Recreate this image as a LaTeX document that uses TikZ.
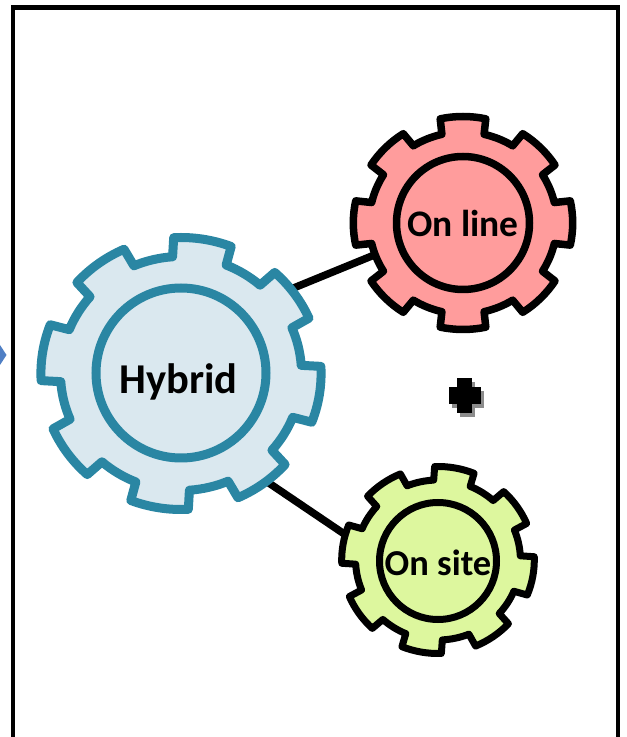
\documentclass[tikz,border=0pt]{standalone}
\usepackage{fontspec}
\setmainfont{Carlito}
\usetikzlibrary{backgrounds}

% #1 centre, #2 root radius, #3 tip radius, #4 first tooth angle, #5 style
\newcommand{\gearshape}[5]{
  \draw[shift={(#1)}, #5] (#4-13:#2)
    \foreach \k in {0,...,7} {
      -- ({#4+45*\k-12}:#3) arc [start angle={#4+45*\k-12}, end angle={#4+45*\k+12}, radius=#3]
      -- ({#4+45*\k+13}:#2) arc [start angle={#4+45*\k+13}, end angle={#4+45*\k+32}, radius=#2]
    } -- cycle;
}

\begin{document}
\begin{tikzpicture}[
  x=1pt, y=1pt,
  frame/.style={draw=black, line width=4.5pt},
  link/.style={draw=black, line width=7.5pt},
  hub/.style={circle, draw, inner sep=0pt, align=center},
  hybridgear/.style={draw=hybridline, fill=hybridfill, line width=9pt, line join=round, xscale=1.03},
  onlinegear/.style={draw=black, fill=onlinefill, line width=7.5pt, line join=round, xscale=1.03},
  onsitegear/.style={draw=black, fill=onsitefill, line width=7pt, line join=round, xscale=1.03}
]
  \definecolor{hybridline}{HTML}{2A86A3}
  \definecolor{hybridfill}{HTML}{DAE8EF}
  \definecolor{onlinefill}{HTML}{FF9C9C}
  \definecolor{onsitefill}{HTML}{DDF79E}
  \definecolor{tipblue}{HTML}{4F7FC4}
  \useasboundingbox (0,0) rectangle (627,737);
  \clip (0,0) rectangle (627,737);

  \draw[frame] (13,-10) -- (13,729.5) -- (618,729.5) -- (618,-10);
  \fill[tipblue] (0,392) -- (6.5,382) -- (0,372) -- cycle;

  \gearshape{181,363.5}{117}{136}{81}{hybridgear}
  \node[hub, draw=hybridline, line width=9pt, minimum size=170pt] (hybrid) at (181,364) {};
  \node[font=\bfseries\fontsize{42.5}{42.5}\selectfont] (hybridtext) at (178.5,355) {Hybrid};

  \gearshape{463,514}{91}{106.5}{90}{onlinegear}
  \node[hub, line width=7.5pt, minimum size=133pt, font=\bfseries\fontsize{37.5}{37.5}\selectfont] (online) at (463,514) {On line};

  \gearshape{438,177}{80}{93.5}{80}{onsitegear}
  \node[hub, line width=7pt, minimum size=117pt] (onsite) at (438,176) {};
  \node[font=\bfseries\fontsize{36.5}{36.5}\selectfont] (onsitetext) at (438,174) {On site};

  \begin{scope}[on background layer]
    \draw[link] (hybrid.46) -- (online.199);
    \draw[link] (hybrid.-62) -- (onsite.175);
  \end{scope}

  % plus sign with its grey shadow
  \fill[black!45] (460,320) rectangle (475,355);
  \fill[black!45] (451.5,329) rectangle (483.5,346);
  \fill[black] (457,324) rectangle (472,359);
  \fill[black] (448.5,333) rectangle (480.5,350);
\end{tikzpicture}
\end{document}
